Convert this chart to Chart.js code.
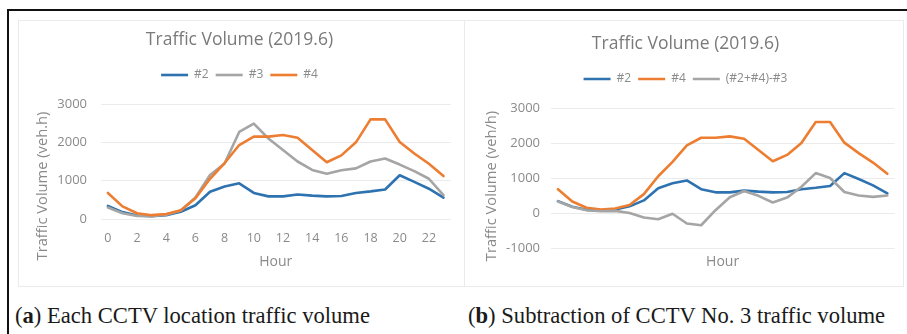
<!DOCTYPE html>
<html>
<head>
<meta charset="utf-8">
<script src="https://cdn.jsdelivr.net/npm/chart.js@4/dist/chart.umd.min.js"></script>
<style>
  html, body { margin: 0; padding: 0; background: #fff; }
  body { width: 907px; height: 334px; overflow: hidden; position: relative; }
  .frame { position: absolute; left: 7px; top: 9px; width: 920px; height: 340px;
           border-top: 2px solid #111; border-left: 2px solid #111; }
  .box { position: absolute; border: 1px solid #ebebeb; box-sizing: border-box; }
  #boxA { left: 18px; top: 20px; width: 447px; height: 267px; }
  #boxB { left: 464px; top: 20px; width: 440px; height: 267px; }
  canvas { position: absolute; }
  #chartA { left: 18px; top: 20px; }
  #chartB { left: 463px; top: 22px; }
  .cap { position: absolute; top: 304px; line-height: 24px; font-family: "Liberation Serif", serif;
         font-size: 22.6px; color: #1a1a1a; white-space: nowrap; }
  #capA { left: 15px; }
  #capB { left: 468px; }
</style>
</head>
<body>
<div class="frame"></div>
<div class="box" id="boxA"></div>
<div class="box" id="boxB"></div>
<canvas id="chartA" width="437" height="265"></canvas>
<canvas id="chartB" width="440" height="263"></canvas>
<div class="cap" id="capA">(<b>a</b>) Each CCTV location traffic volume</div>
<div class="cap" id="capB">(<b>b</b>) Subtraction of CCTV No. 3 traffic volume</div>

<script>
// Hour of day (category axis)
const hours = ['0','1','2','3','4','5','6','7','8','9','10','11','12','13','14','15','16','17','18','19','20','21','22','23'];

// Hourly traffic volume per CCTV location (veh/h)
const cctv2 = [340, 180, 90, 70, 100, 190, 360, 710, 850, 930, 680, 590, 590, 640, 610, 590, 600, 680, 720, 770, 1140, 970, 790, 560];
const cctv3 = [300, 150, 80, 70, 110, 220, 560, 1150, 1450, 2270, 2490, 2100, 1800, 1500, 1280, 1180, 1270, 1320, 1500, 1580, 1420, 1250, 1050, 620];
const cctv4 = [680, 330, 150, 100, 130, 230, 540, 1050, 1460, 1930, 2150, 2150, 2190, 2120, 1800, 1480, 1660, 2000, 2600, 2600, 2010, 1710, 1440, 1120];
// (#2 + #4) - #3
const combined = [330, 170, 80, 50, 60, 0, -130, -180, -20, -300, -350, 80, 450, 630, 490, 300, 440, 750, 1140, 1000, 600, 500, 460, 500];

const chartTitle = 'Traffic Volume (2019.6)';
const FONT = '"Open Sans", sans-serif';
const BLUE = '#2E73B0', ORANGE = '#ED7D31', GRAY = '#A5A5A5';
const TEXT = '#8a8a8a';

// Rotated y-axis title, centred on the plot plus the hour labels
const yTitlePlugin = {
  id: 'yTitle',
  afterDraw(chart, args, opts) {
    const ctx = chart.ctx;
    ctx.save();
    ctx.translate(opts.x, opts.y);
    ctx.rotate(-Math.PI / 2);
    ctx.font = opts.size + 'px ' + FONT;
    ctx.fillStyle = opts.color;
    ctx.textAlign = 'center';
    ctx.textBaseline = 'middle';
    ctx.fillText(opts.text, 0, 0);
    ctx.restore();
  }
};

// Extra room between the legend row and the plot
const legendGap = {
  id: 'legendGap',
  beforeInit(chart) {
    const fit = chart.legend.fit;
    chart.legend.fit = function () {
      fit.call(this);
      this.height += 13;
    };
  }
};

function series(label, data, color, order) {
  return {
    label, data, order,
    borderColor: color, backgroundColor: color,
    borderWidth: 2.6, pointRadius: 0, tension: 0,
    borderJoinStyle: 'round', borderCapStyle: 'round', fill: false
  };
}

function build(id, datasets, g) {
  new Chart(document.getElementById(id), {
    type: 'line',
    data: { labels: hours, datasets },
    plugins: [yTitlePlugin, legendGap],
    options: {
      responsive: false,
      animation: false,
      layout: { padding: { left: g.padL, right: g.padR, top: 0, bottom: 0 } },
      plugins: {
        title: {
          display: true, text: chartTitle, color: '#7a7a7a',
          font: { family: FONT, size: 17.5, weight: 'normal' },
          padding: { top: g.titleTop, bottom: 11.5 }
        },
        legend: {
          position: 'top',
          labels: {
            usePointStyle: true, pointStyle: 'line', pointStyleWidth: 27,
            color: TEXT, font: { family: FONT, size: 12 }, padding: 7,
            sort: (a, b) => a.datasetIndex - b.datasetIndex
          }
        },
        tooltip: { enabled: false },
        yTitle: { text: g.yTitle, x: g.yTitleX, y: g.yTitleY, size: 14.7, color: TEXT }
      },
      scales: {
        x: {
          type: 'category', offset: true,
          grid: { display: false, drawTicks: false },
          border: { display: false },
          ticks: {
            autoSkip: false, maxRotation: 0, color: TEXT,
            font: { family: FONT, size: 12.5 }, padding: g.xTickPad,
            callback: (v, i) => (i % 2 === 0 ? hours[i] : '')
          },
          title: {
            display: true, text: 'Hour', color: TEXT,
            font: { family: FONT, size: 14 }, padding: { top: 0, bottom: 14.6 }
          },
          afterFit: s => { s.height = g.xH; }
        },
        y: {
          min: g.yMin, max: g.yMax,
          ticks: {
            stepSize: 1000, color: TEXT, font: { family: FONT, size: 13 }, padding: g.yTickPad,
            callback: v => String(v)
          },
          grid: { color: '#ebebeb', lineWidth: 1, drawTicks: false },
          border: { display: false },
          afterFit: s => { s.width = g.yW; }
        }
      }
    }
  });
}

build('chartA', [
  series('#2', cctv2, BLUE, 3),
  series('#3', cctv3, GRAY, 2),
  series('#4', cctv4, ORANGE, 1)
], {
  padL: 7, padR: 1, titleTop: 9.5, yMin: 0, yMax: 3000,
  xTickPad: 11.5, xH: 66, yTickPad: 13.6, yW: 75.6,
  yTitle: 'Traffic Volume (veh.h)', yTitleX: 25, yTitleY: 166
});

build('chartB', [
  series('#2', cctv2, BLUE, 3),
  series('#4', cctv4, ORANGE, 2),
  series('(#2+#4)-#3', combined, GRAY, 1)
], {
  padL: 13.5, padR: 8.5, titleTop: 11.5, yMin: -1000, yMax: 3000,
  xTickPad: -23.5, xH: 37, yTickPad: 10.8, yW: 74.3,
  yTitle: 'Traffic Volume (veh/h)', yTitleX: 29, yTitleY: 164
});
</script>
</body>
</html>
